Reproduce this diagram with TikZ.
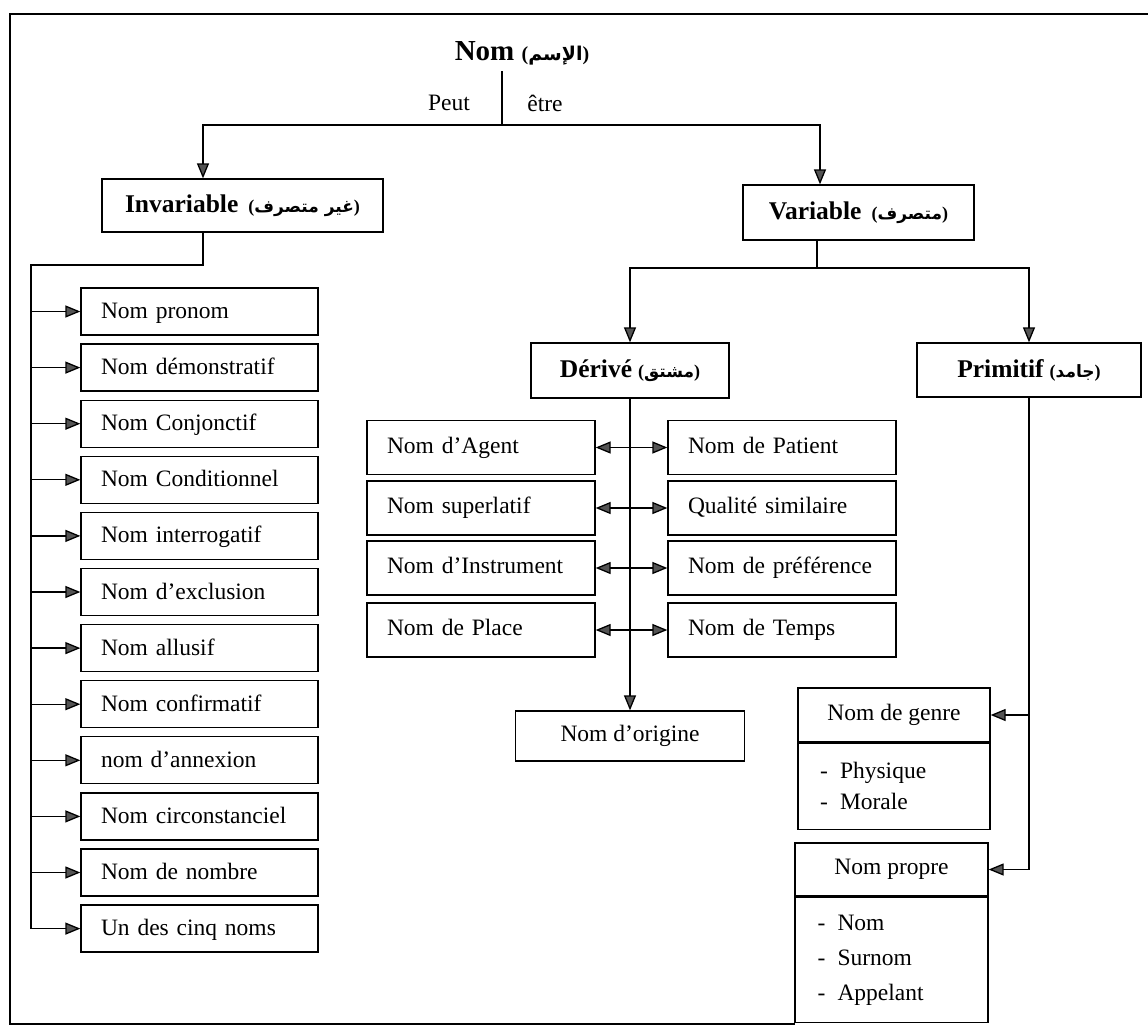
\documentclass[tikz,border=0pt]{standalone}
\usepackage{fontspec}
\setmainfont{Liberation Serif}
\newfontfamily\arabicfont[Script=Arabic]{DejaVu Sans}
\TeXXeTstate=1
\usetikzlibrary{arrows.meta}
\definecolor{tipgray}{gray}{0.33}
% Arabic gloss in parentheses, set right to left
\newcommand\arabpar[2][18]{{\bfseries\fontsize{#1}{#1}\selectfont({\arabicfont\bfseries\fontsize{\numexpr#1-1\relax}{#1}\selectfont\beginR #2\endR})}}

\begin{document}
\begin{tikzpicture}[x=1pt,y=-1pt,
  >={Triangle[length=15pt,width=12pt,fill=tipgray]},
  every node/.style={font=\fontsize{23.5}{31}\selectfont},
  frame/.style={line width=1.3pt},
  link/.style={line width=1.3pt},
  box/.style={draw,line width=1.3pt,inner sep=0pt},
  titlebox/.style={box,font=\fontsize{25.5}{30}\selectfont\bfseries},
  leftbox/.style={box,minimum width=237pt,minimum height=47pt,text width=197pt,align=left,
    text height=20pt,text depth=6pt},
  midbox/.style={box,minimum width=228pt,minimum height=54pt,text width=188pt,align=left,
    text depth=5pt},
  listbox/.style={box,anchor=north,text width=148pt,align=left},
]
\useasboundingbox (0,0) rectangle (1148,1028);

% outer frame
\draw[frame] (1148,14) -- (10,14) -- (10,1024) -- (795,1024);

% root and its two branches
\node[inner sep=6pt] (root) at (522,53) {\fontsize{29}{32}\selectfont\bfseries Nom \arabpar[20]{الإسم}};
\node (peut) at (449,103) {Peut};
\node (etre) at (545,103) {être};
\coordinate (j1) at (502,125);
\draw[link] (j1 |- root.south) -- (j1);

\node[titlebox,minimum width=281pt,minimum height=53pt] (inv) at (242.5,205.5)
  {Invariable\hspace{10pt}\arabpar{غير متصرف}};
\node[titlebox,minimum width=231pt,minimum height=55pt] (var) at (858.5,212.5)
  {Variable\hspace{10pt}\arabpar{متصرف}};
\coordinate (invtop) at ([xshift=-39.5pt]inv.north);
\coordinate (vartop) at ([xshift=-38.5pt]var.north);
\draw[link,->] (j1) -| (invtop);
\draw[link,->] (j1) -| (vartop);

% invariable nouns
\foreach \t [count=\i] in {Nom pronom,Nom démonstratif,Nom Conjonctif,Nom Conditionnel,
    Nom interrogatif,Nom d’exclusion,Nom allusif,Nom confirmatif,nom d’annexion,
    Nom circonstanciel,Nom de nombre,Un des cinq noms}
  \node[leftbox] (l\i) at (199.5,{311.5+56.1*(\i-1)}) {\t};

\coordinate (invbot) at ([xshift=-39.5pt]inv.south);
\coordinate (sp) at (31,265);
\draw[link] (invbot) |- (sp) -- (sp |- l12.west);
\foreach \i in {1,...,12}
  \draw[link,->] (sp |- l\i.west) -- (l\i.west);

% variable nouns
\node[titlebox,minimum width=198pt,minimum height=55pt] (der) at (630,370.5)
  {Dérivé\hspace{6pt}\arabpar{مشتق}};
\node[titlebox,minimum width=224pt,minimum height=54pt] (prim) at (1029,370)
  {Primitif\hspace{6pt}\arabpar{جامد}};
\coordinate (varbot) at ([xshift=-41.5pt]var.south);
\coordinate (j2) at (817,268);
\draw[link] (varbot) -- (j2);
\draw[link,->] (j2) -| (der.north);
\draw[link,->] (j2) -| (prim.north);

% derived nouns
\node[midbox] (m1) at (481,447.5) {Nom d’Agent};
\node[midbox] (m2) at (481,508) {Nom superlatif};
\node[midbox] (m3) at (481,568) {Nom d’Instrument};
\node[midbox] (m4) at (481,630) {Nom de Place};
\node[midbox] (n1) at (782,447.5) {Nom de Patient};
\node[midbox] (n2) at (782,508) {Qualité similaire};
\node[midbox] (n3) at (782,568) {Nom de préférence};
\node[midbox] (n4) at (782,630) {Nom de Temps};
\node[box,minimum width=229pt,minimum height=50pt] (orig) at (630,736) {Nom d’origine};
\draw[link,->] (der.south) -- (orig.north);
\foreach \i in {1,...,4}
  \draw[link,<->] (m\i.east) -- (n\i.west);

% primitive nouns
\node[box,minimum width=192pt,minimum height=54pt] (gh) at (894,715) {Nom de genre};
\node[listbox,minimum width=192pt,minimum height=86pt] (gb) at (gh.south)
  {\makebox[20pt][l]{-}Physique\\\makebox[20pt][l]{-}Morale};
\node[box,minimum width=193pt,minimum height=53pt] (ph) at (891.5,869.5) {Nom propre};
\node[listbox,minimum width=193pt,minimum height=125pt,
      font=\fontsize{23.5}{35}\selectfont] (pb) at (ph.south)
  {\makebox[20pt][l]{-}Nom\\\makebox[20pt][l]{-}Surnom\\\makebox[20pt][l]{-}Appelant};
\draw[link] (prim.south) -- (prim.south |- ph.east);
\draw[link,->] (prim.south |- gh.east) -- (gh.east);
\draw[link,->] (prim.south |- ph.east) -- (ph.east);
\end{tikzpicture}
\end{document}
